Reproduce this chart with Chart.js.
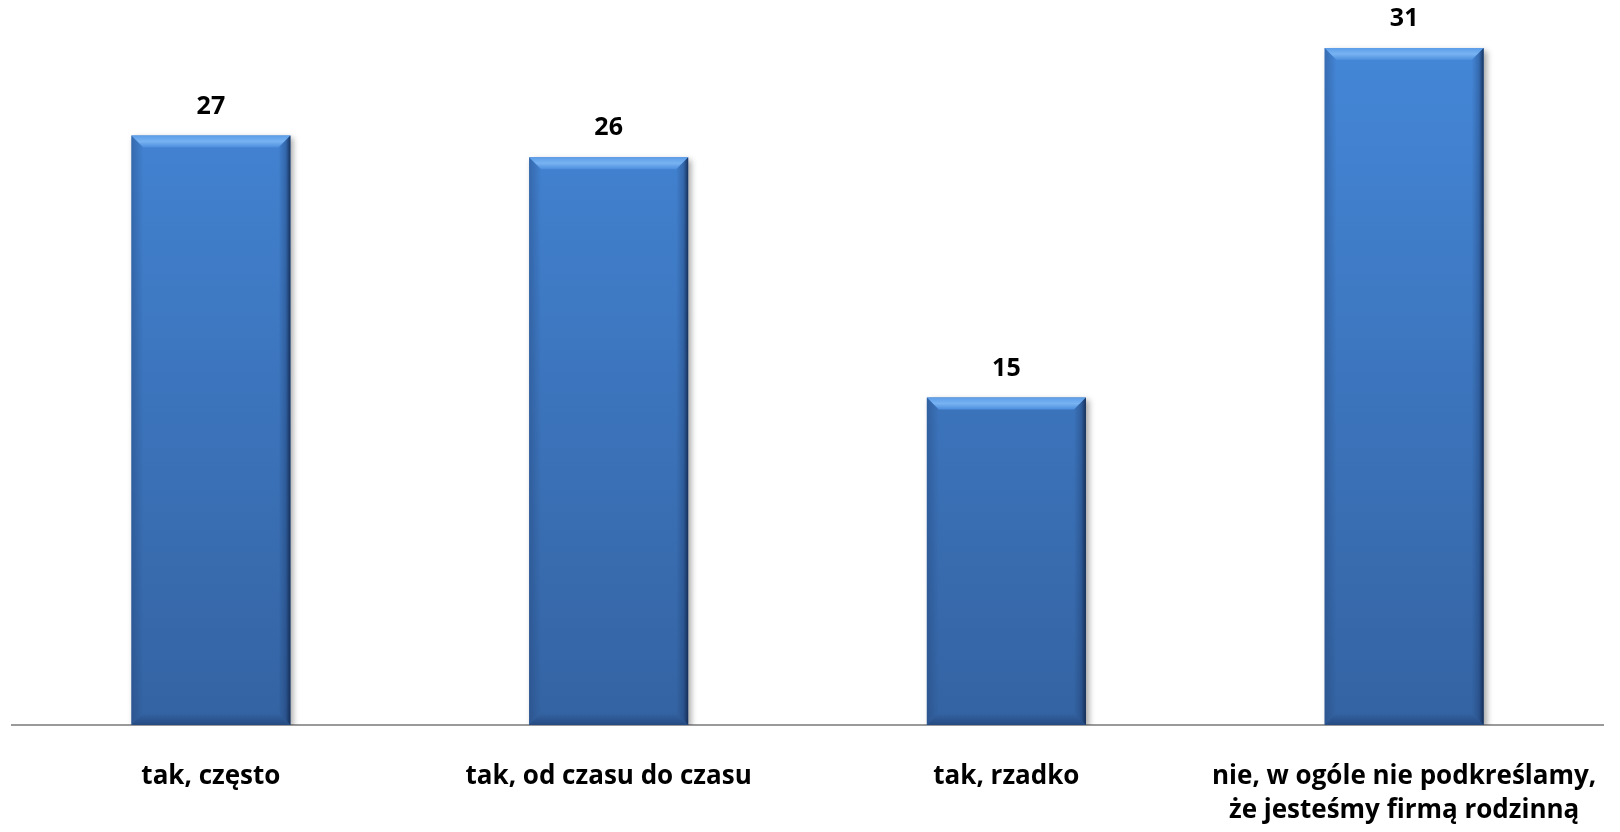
<!DOCTYPE html>
<html lang="pl">

<head>
  <meta charset="UTF-8">
  <title>Podkreślanie rodzinnego charakteru firmy</title>
  <script src="https://cdn.jsdelivr.net/npm/chart.js"></script>
  <style>
    html, body { margin: 0; padding: 0; background: #fff; }
    .wykres { position: relative; width: 1620px; height: 832px; }
  </style>
</head>

<body>

  <div class="wykres">
    <canvas id="wykres_slupki"></canvas>
  </div>

<script>

  // odpowiedzi i procenty
  var kategorie = [
    'tak, często',
    'tak, od czasu do czasu',
    'tak, rzadko',
    ['nie, w ogóle nie podkreślamy,', 'że jesteśmy firmą rodzinną']
  ]
  var wartosci = [27, 26, 15, 31]

  var czcionka = "'Open Sans', Lato, sans-serif"

  // gradient slupka od gory do dolu
  function kolor_slupka(context) {
    const chart = context.chart
    const area = chart.chartArea
    if (!area) return '#3f7ccc'
    const g = chart.ctx.createLinearGradient(0, area.top, 0, area.bottom)
    g.addColorStop(0, '#4589db')
    g.addColorStop(1, '#3463a2')
    return g
  }

  // cien pod slupkami
  const cien = {
    id: 'cien',
    beforeDatasetsDraw(chart) {
      const ctx = chart.ctx
      ctx.save()
      ctx.shadowColor = 'rgba(0, 0, 0, 0.35)'
      ctx.shadowBlur = 6
      ctx.shadowOffsetX = 3
      ctx.shadowOffsetY = 3
    },
    afterDatasetsDraw(chart) {
      chart.ctx.restore()
    }
  }

  // fazowane krawedzie slupkow + etykiety wartosci
  const faza = {
    id: 'faza',
    afterDatasetsDraw(chart) {
      const ctx = chart.ctx
      const meta = chart.getDatasetMeta(0)
      meta.data.forEach(function (bar, i) {
        const l = bar.x - bar.width / 2
        const r = bar.x + bar.width / 2
        const t = bar.y
        const b = bar.base
        const d = 12

        ctx.save()
        // gora - jasniejszy pas
        let g = ctx.createLinearGradient(0, t, 0, t + d)
        g.addColorStop(0, '#5c9de8')
        g.addColorStop(0.5, '#78b3f2')
        g.addColorStop(1, '#4c8ddc')
        ctx.fillStyle = g
        ctx.beginPath()
        ctx.moveTo(l, t); ctx.lineTo(r, t); ctx.lineTo(r - d, t + d); ctx.lineTo(l + d, t + d)
        ctx.closePath(); ctx.fill()

        // lewa krawedz
        g = ctx.createLinearGradient(l, 0, l + d, 0)
        g.addColorStop(0, 'rgba(30, 60, 110, 0.35)')
        g.addColorStop(1, 'rgba(30, 60, 110, 0)')
        ctx.fillStyle = g
        ctx.beginPath()
        ctx.moveTo(l, t); ctx.lineTo(l + d, t + d); ctx.lineTo(l + d, b - d); ctx.lineTo(l, b)
        ctx.closePath(); ctx.fill()

        // prawa krawedz
        g = ctx.createLinearGradient(r - d, 0, r, 0)
        g.addColorStop(0, 'rgba(20, 45, 90, 0)')
        g.addColorStop(0.6, 'rgba(20, 45, 90, 0.3)')
        g.addColorStop(1, 'rgba(15, 35, 70, 0.85)')
        ctx.fillStyle = g
        ctx.beginPath()
        ctx.moveTo(r, t); ctx.lineTo(r - d, t + d); ctx.lineTo(r - d, b - d); ctx.lineTo(r, b)
        ctx.closePath(); ctx.fill()

        // dol
        g = ctx.createLinearGradient(0, b - d, 0, b)
        g.addColorStop(0, 'rgba(20, 45, 90, 0)')
        g.addColorStop(1, 'rgba(20, 45, 90, 0.45)')
        ctx.fillStyle = g
        ctx.beginPath()
        ctx.moveTo(l, b); ctx.lineTo(l + d, b - d); ctx.lineTo(r - d, b - d); ctx.lineTo(r, b)
        ctx.closePath(); ctx.fill()

        // wartosc nad slupkiem
        ctx.fillStyle = '#000'
        ctx.font = 'bold 25px ' + czcionka
        ctx.textAlign = 'center'
        ctx.textBaseline = 'middle'
        ctx.fillText(wartosci[i], bar.x, t - 29)
        ctx.restore()
      })
    }
  }

  const data = {
    labels: kategorie,
    datasets: [{
      data: wartosci,
      backgroundColor: kolor_slupka,
      borderWidth: 0,
      categoryPercentage: 0.4,
      barPercentage: 1
    }]
  }

  const config = {
    type: 'bar',
    data: data,
    options: {
      responsive: false,
      animation: false,
      devicePixelRatio: 1,
      layout: { padding: { top: 0, left: 12, right: 17, bottom: 0 } },
      plugins: {
        legend: { display: false },
        tooltip: { enabled: false }
      },
      scales: {
        x: {
          grid: { display: false, drawTicks: false },
          border: { display: true, color: '#9a9a9a', width: 2 },
          ticks: {
            color: '#000',
            padding: 35,
            maxRotation: 0,
            autoSkip: false,
            font: { family: czcionka, size: 26, weight: 'bold', lineHeight: 1.31 }
          },
          afterFit: function (s) {
            // stala wysokosc pod osia i bez dodatkowego marginesu na etykiety
            s.height = 107
            s.paddingLeft = 0
            s.paddingRight = 0
          }
        },
        y: {
          display: false,
          min: 0,
          max: 33.2
        }
      }
    },
    plugins: [cien, faza]
  }

  const canvas = document.getElementById('wykres_slupki')
  canvas.width = 1620
  canvas.height = 832

  const myChart = new Chart(canvas, config)

</script>

</body>

</html>
